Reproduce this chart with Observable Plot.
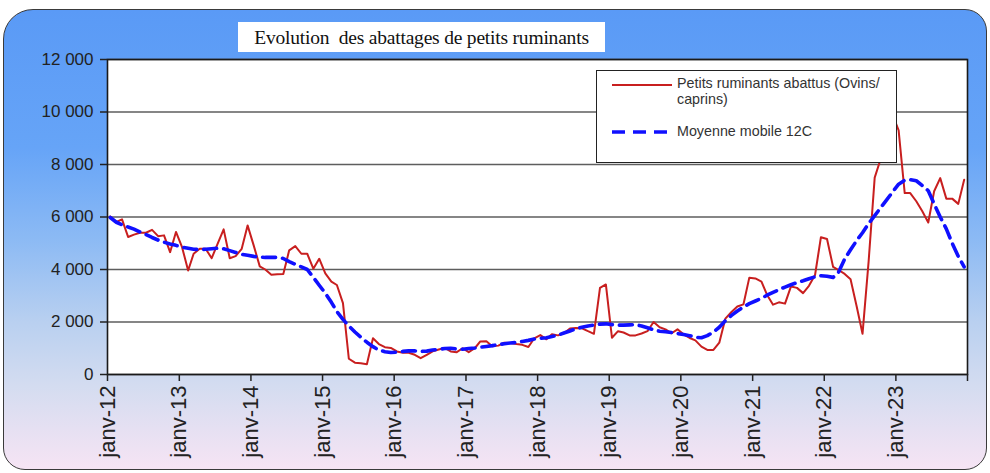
<!DOCTYPE html>
<html>
<head>
<meta charset="utf-8">
<script src="https://cdn.jsdelivr.net/npm/d3@7"></script>
<script src="https://cdn.jsdelivr.net/npm/@observablehq/plot@0.6"></script>
<style>
  html, body { margin: 0; padding: 0; background: #ffffff; }
  #wrap { position: relative; width: 990px; height: 473px; overflow: hidden; }
  #panel {
    position: absolute; left: 3px; top: 9px; width: 982px; height: 459px;
    border: 1.5px solid #3a3a3a;
    border-radius: 30px 22px 22px 22px;
    background: linear-gradient(to bottom, #5a9af6 0%, #66a4f7 30%, #8cbaf4 50%, #b9d0f0 68%, #d4dcf0 82%, #f6e4f4 100%);
  }
  #chart { position: absolute; left: 0; top: 0; }
  #title {
    position: absolute; left: 238px; top: 22px; width: 367px; height: 30px;
    background: #ffffff; font-family: "Liberation Serif", "Times New Roman", serif;
    font-size: 19.5px; letter-spacing: -0.2px; color: #111; white-space: pre; text-align: center; line-height: 31px;
  }
  #legend {
    position: absolute; left: 596px; top: 70px; width: 301px; height: 93px;
    box-sizing: border-box; border: 1.5px solid #222; background: #ffffff;
    font-family: "Liberation Sans", Arial, sans-serif; font-size: 14.3px; color: #333;
  }
  #legend .t { position: absolute; left: 80px; white-space: nowrap; line-height: 16px; }
  #legend svg { position: absolute; left: 15px; }
</style>
</head>
<body>
<div id="wrap">
  <div id="panel"></div>
  <div id="chart"></div>
  <div id="title"></div>
  <div id="legend"></div>
</div>
<script>
// ---- data ----
const startYear = 2012;
const yearLabels = ["janv-12","janv-13","janv-14","janv-15","janv-16","janv-17","janv-18","janv-19","janv-20","janv-21","janv-22","janv-23"];
const yTicks = [0, 2000, 4000, 6000, 8000, 10000, 12000];
const titleText = "Evolution  des abattages de petits ruminants";
const seriesNames = ["Petits ruminants abattus (Ovins/\ncaprins)", "Moyenne mobile 12C"];

// Petits ruminants abattus, monthly Jan 2012 - Dec 2023
const abattus = [
  6020, 5810, 5910, 5240, 5330, 5400, 5400, 5510, 5270, 5300, 4660, 5430,
  4850, 3960, 4600, 4790, 4790, 4430, 4980, 5530, 4430, 4510, 4790, 5680,
  4920, 4120, 4000, 3800, 3820, 3830, 4730, 4890, 4600, 4600, 4030, 4410,
  3850, 3540, 3410, 2720,  600,  450,  425,  390, 1380, 1160, 1040, 1010,
   880,  830,  830,  750,  620,  750,  880,  950, 1010,  880,  850, 1000,
   850, 1000, 1260, 1270, 1080, 1100, 1210, 1200, 1160, 1130, 1050, 1380,
  1500, 1340, 1530, 1490, 1570, 1750, 1770, 1760, 1650, 1550, 3300, 3430,
  1400, 1650, 1600, 1490, 1490, 1560, 1650, 2000, 1800, 1720, 1570, 1720,
  1530, 1390, 1300, 1060,  935,  935, 1210, 2130, 2380, 2590, 2670, 3690,
  3660, 3540, 3040, 2660, 2750, 2700, 3350, 3300, 3100, 3380, 3790, 5230,
  5160, 4100, 3980, 3830, 3630, 2600, 1550, 4300, 7500, 8200, 9000, 9900,
  9300, 6910, 6910, 6600, 6230, 5790, 6980, 7480, 6700, 6700, 6500, 7420
];
// Moyenne mobile 12C
const moyenne = [
  5980, 5800, 5700, 5620, 5540, 5430, 5330, 5220, 5120, 5040, 4970, 4920,
  4850, 4810, 4770, 4760, 4770, 4790, 4810, 4790, 4720, 4650, 4580, 4540,
  4500, 4470, 4460, 4460, 4460, 4420, 4300, 4200, 4100, 4000, 3700, 3400,
  3100, 2750, 2400, 2100, 1850, 1620, 1420, 1230, 1060,  930,  870,  840,
   850,  880,  900,  900,  880,  890,  930,  960,  990, 1000,  970,  960,
   990, 1010, 1040, 1070, 1100, 1140, 1170, 1200, 1220, 1260, 1300, 1350,
  1380, 1400, 1450, 1500, 1580, 1660, 1740, 1800, 1850, 1880, 1920, 1930,
  1900, 1880, 1880, 1890, 1900, 1850, 1780, 1700, 1650, 1630, 1600, 1560,
  1520, 1480, 1420, 1400, 1480, 1620, 1800, 2050, 2250, 2420, 2570, 2700,
  2800, 2900, 3020, 3130, 3230, 3330, 3420, 3500, 3570, 3650, 3720, 3760,
  3740, 3700, 3900, 4400, 4750, 5100, 5400, 5750, 6050, 6350, 6650, 6950,
  7250, 7400, 7420, 7380, 7200, 7000, 6500, 6000, 5550, 5000, 4500, 4100
];

// ---- build table ----
const rows = abattus.map((v, i) => ({
  date: new Date(Date.UTC(startYear + Math.floor(i / 12), i % 12, 15)),
  abattus: v,
  moyenne: moyenne[i]
}));
const xTicks = d3.range(yearLabels.length + 1).map(k => new Date(Date.UTC(startYear + k, 0, 1)));
const fmtX = d => { const k = d.getUTCFullYear() - startYear; return yearLabels[k] ?? ""; };
const fmtY = d => d3.format(",")(d).replace(/,/g, " ");

const chart = Plot.plot({
  width: 990,
  height: 473,
  marginLeft: 107,
  marginRight: 23,
  marginTop: 59,
  marginBottom: 99,
  style: { background: "transparent", color: "#222", fontFamily: "'Liberation Sans', Arial, sans-serif", overflow: "visible" },
  x: { type: "utc", domain: [xTicks[0], xTicks[xTicks.length - 1]] },
  y: { domain: [0, 12000] },
  marks: [
    Plot.frame({ fill: "#ffffff", stroke: "none" }),
    Plot.gridY(yTicks, { stroke: "#5e5e5e", strokeOpacity: 1, strokeWidth: 1.6 }),
    Plot.line(rows, { x: "date", y: "abattus", stroke: "#c81f1f", strokeWidth: 2 }),
    Plot.line(rows, { x: "date", y: "moyenne", stroke: "#1010ff", strokeWidth: 3.6, strokeDasharray: "13,7" }),
    Plot.frame({ stroke: "#1a1a1a", strokeWidth: 1.6 }),
    Plot.axisY({ ticks: yTicks, tickSize: 7, tickPadding: 7, tickFormat: fmtY, fontSize: 17, fill: "#222", stroke: "#222", strokeWidth: 1.5 }),
    Plot.axisX({ ticks: xTicks, tickSize: 7, tickPadding: 4, tickRotate: -90, tickFormat: fmtX, fontSize: 22, fill: "#222", stroke: "#222", strokeWidth: 1.5 })
  ]
});
document.getElementById("chart").appendChild(chart);

// ---- title ----
document.getElementById("title").textContent = titleText;

// ---- legend ----
const lg = document.getElementById("legend");
const mk = (html) => { const d = document.createElement("div"); d.innerHTML = html; return d.firstElementChild; };
const lines1 = seriesNames[0].split("\n");
lg.appendChild(mk(`<svg width="60" height="6" style="top:11px"><line x1="0" y1="3" x2="60" y2="3" stroke="#c81f1f" stroke-width="2"/></svg>`));
lg.appendChild(mk(`<div class="t" style="top:4px">${lines1[0]}</div>`));
lg.appendChild(mk(`<div class="t" style="top:20px">${lines1[1]}</div>`));
lg.appendChild(mk(`<svg width="60" height="8" style="top:57px"><line x1="0" y1="4" x2="60" y2="4" stroke="#1010ff" stroke-width="3.6" stroke-dasharray="13,8"/></svg>`));
lg.appendChild(mk(`<div class="t" style="top:52px">${seriesNames[1]}</div>`));
</script>
</body>
</html>
